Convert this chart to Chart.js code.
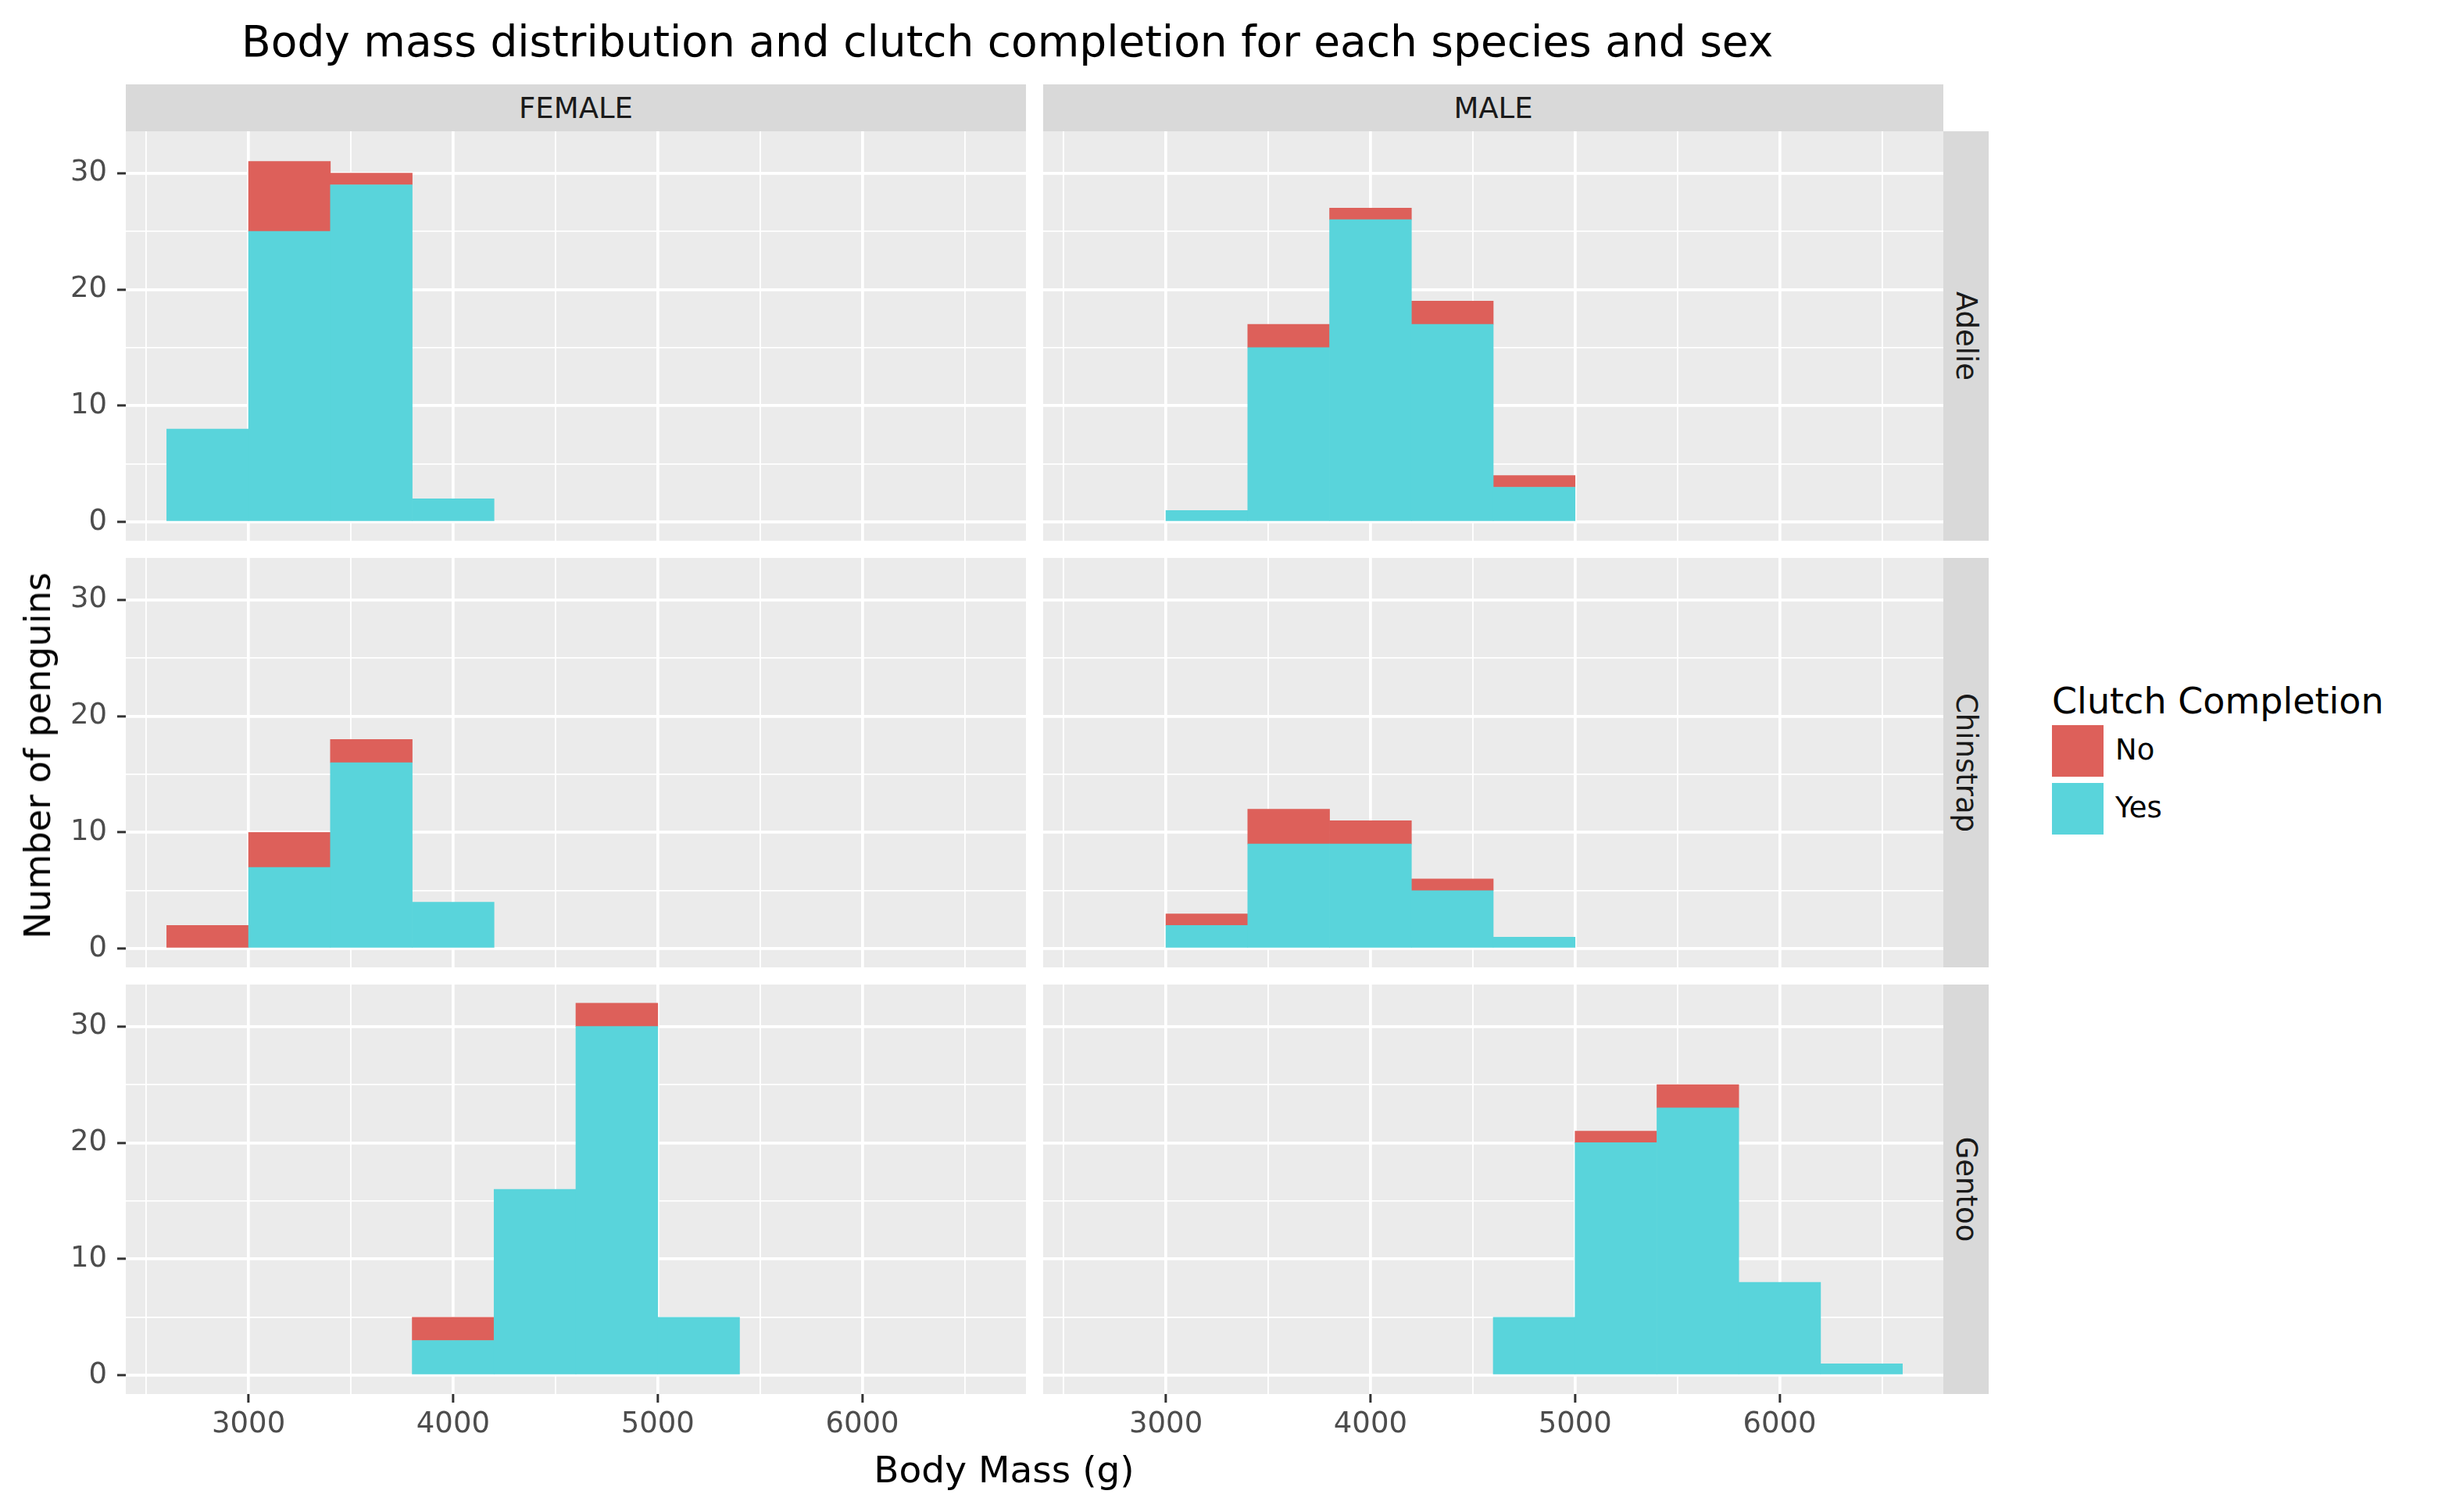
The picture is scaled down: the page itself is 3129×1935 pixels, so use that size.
<!DOCTYPE html>
<html>
<head>
<meta charset="utf-8">
<script src="https://cdn.jsdelivr.net/npm/chart.js@4.4.1/dist/chart.umd.min.js"></script>
<style>
  body { margin: 0; background: #fff; font-family: "DejaVu Sans", sans-serif; }
  #page { position: relative; width: 3129px; height: 1935px; overflow: hidden; background: #fff; }
  canvas { position: absolute; }
  .txt { position: absolute; white-space: nowrap; line-height: 1; }
  .strip { position: absolute; background: #D9D9D9; color: #1A1A1A; font-size: 37px; }
  .strip span { position: absolute; left: 50%; top: 50%; white-space: nowrap; line-height: 1; }
  .key { position: absolute; width: 66px; height: 66px; }
</style>
</head>
<body>
<div id="page"></div>
<script>
// histogram bins (left edge of each 400 g bin)
const binStarts = [2600, 3000, 3400, 3800, 4200, 4600, 5000, 5400, 5800, 6200];
const binWidth = 400;
const sexes = ["FEMALE", "MALE"];
const species = ["Adelie", "Chinstrap", "Gentoo"];
const clutch = ["No", "Yes"];
// grid lines (major + minor) and the labelled ones
const xGrid = [2500, 3000, 3500, 4000, 4500, 5000, 5500, 6000, 6500];
const yGrid = [0, 5, 10, 15, 20, 25, 30];
const xTickLabels = [3000, 4000, 5000, 6000];
const yTickLabels = [0, 10, 20, 30];

// counts per bin
const adelieFemaleYes = [8, 25, 29, 2, 0, 0, 0, 0, 0, 0];
const adelieFemaleNo = [0, 6, 1, 0, 0, 0, 0, 0, 0, 0];
const adelieMaleYes = [0, 1, 15, 26, 17, 3, 0, 0, 0, 0];
const adelieMaleNo = [0, 0, 2, 1, 2, 1, 0, 0, 0, 0];
const chinstrapFemaleYes = [0, 7, 16, 4, 0, 0, 0, 0, 0, 0];
const chinstrapFemaleNo = [2, 3, 2, 0, 0, 0, 0, 0, 0, 0];
const chinstrapMaleYes = [0, 2, 9, 9, 5, 1, 0, 0, 0, 0];
const chinstrapMaleNo = [0, 1, 3, 2, 1, 0, 0, 0, 0, 0];
const gentooFemaleYes = [0, 0, 0, 3, 16, 30, 5, 0, 0, 0];
const gentooFemaleNo = [0, 0, 0, 2, 0, 2, 0, 0, 0, 0];
const gentooMaleYes = [0, 0, 0, 0, 0, 5, 20, 23, 8, 1];
const gentooMaleNo = [0, 0, 0, 0, 0, 0, 1, 2, 0, 0];

const colorNo = "#DD605A";
const colorYes = "#59D4DB";

// rows = species, cols = sex; [yes, no]
const panels = [
	[[adelieFemaleYes, adelieFemaleNo], [adelieMaleYes, adelieMaleNo]],
	[[chinstrapFemaleYes, chinstrapFemaleNo], [chinstrapMaleYes, chinstrapMaleNo]],
	[[gentooFemaleYes, gentooFemaleNo], [gentooMaleYes, gentooMaleNo]],
];

// page geometry
const panelLeft = [161, 1335];
const panelTop = [168, 714, 1260];
const panelW = 1152;
const panelH = 524;
const yAxisW = 161;
const xAxisH = 80;

Chart.defaults.font.family = "DejaVu Sans";

const page = document.getElementById("page");

//paints the grey panel background under the grid
const panelBg = {
	id: "panelBg",
	beforeDraw(chart) {
		const a = chart.chartArea;
		const c = chart.ctx;
		c.save();
		c.fillStyle = "#EBEBEB";
		c.fillRect(a.left, a.top, a.right - a.left, a.bottom - a.top);
		c.restore();
	},
};

function toPoints(counts) {
	return counts.map((v, i) => ({ x: binStarts[i] + binWidth / 2, y: v === 0 ? null : v }));
}

function addText(str, css) {
	const d = document.createElement("div");
	d.className = "txt";
	d.textContent = str;
	Object.assign(d.style, css);
	page.appendChild(d);
	return d;
}

// no auto padding around the axes, the panels must sit exactly
function noPad(s) {
	s.paddingTop = 0;
	s.paddingBottom = 0;
	s.paddingLeft = 0;
	s.paddingRight = 0;
}

for (let r = 0; r < species.length; r++) {
	for (let c = 0; c < sexes.length; c++) {
		const showY = c === 0;
		const showX = r === species.length - 1;
		const cv = document.createElement("canvas");
		const w = panelW + (showY ? yAxisW : 0);
		const h = panelH + (showX ? xAxisH : 0);
		cv.width = w;
		cv.height = h;
		cv.style.left = (panelLeft[c] - (showY ? yAxisW : 0)) + "px";
		cv.style.top = panelTop[r] + "px";
		cv.style.width = w + "px";
		cv.style.height = h + "px";
		page.appendChild(cv);

		const [yes, no] = panels[r][c];
		new Chart(cv.getContext("2d"), {
			type: "bar",
			data: {
				datasets: [
					{ label: "Yes", data: toPoints(yes), backgroundColor: colorYes },
					{ label: "No", data: toPoints(no), backgroundColor: colorNo },
				],
			},
			options: {
				responsive: false,
				devicePixelRatio: 1,
				animation: false,
				layout: { autoPadding: false, padding: 0 },
				datasets: { bar: { barPercentage: 1, categoryPercentage: 1, borderWidth: 0 } },
				plugins: { legend: { display: false }, tooltip: { enabled: false } },
				scales: {
					x: {
						type: "linear",
						position: "bottom",
						offset: false,
						stacked: true,
						min: 2400,
						max: 6800,
						border: { display: false },
						grid: {
							offset: false,
							color: "#FFFFFF",
							lineWidth: (ctx) => (ctx.tick && ctx.tick.value % 1000 === 0 ? 3.7 : 1.85),
							drawTicks: showX,
							tickLength: 11,
							tickWidth: 3,
							tickColor: (ctx) => (ctx.tick && xTickLabels.includes(ctx.tick.value) ? "#333333" : "rgba(0,0,0,0)"),
						},
						ticks: {
							display: showX,
							autoSkip: false,
							maxRotation: 0,
							minRotation: 0,
							padding: 6,
							color: "#4D4D4D",
							font: { size: 37 },
							callback: (v) => (xTickLabels.includes(v) ? String(v) : ""),
						},
						afterBuildTicks: (s) => { s.ticks = xGrid.map((v) => ({ value: v })); },
						afterFit: (s) => { s.height = showX ? xAxisH : 0; noPad(s); },
					},
					y: {
						stacked: true,
						min: -1.6,
						max: 33.6,
						border: { display: false },
						grid: {
							color: "#FFFFFF",
							lineWidth: (ctx) => (ctx.tick && ctx.tick.value % 10 === 0 ? 3.7 : 1.85),
							drawTicks: showY,
							tickLength: 11,
							tickWidth: 3,
							tickColor: (ctx) => (ctx.tick && yTickLabels.includes(ctx.tick.value) ? "#333333" : "rgba(0,0,0,0)"),
						},
						ticks: {
							display: showY,
							autoSkip: false,
							padding: 13,
							color: "#4D4D4D",
							font: { size: 37 },
							callback: (v) => (yTickLabels.includes(v) ? String(v) : ""),
						},
						afterBuildTicks: (s) => { s.ticks = yGrid.map((v) => ({ value: v })); },
						afterFit: (s) => { s.width = showY ? yAxisW : 0; noPad(s); },
					},
				},
			},
			plugins: [panelBg],
		});
	}
}

// facet strips on top (sex)
sexes.forEach((s, c) => {
	const d = document.createElement("div");
	d.className = "strip";
	Object.assign(d.style, { left: panelLeft[c] + "px", top: "108px", width: panelW + "px", height: "60px" });
	const sp = document.createElement("span");
	sp.textContent = s;
	sp.style.transform = "translate(-50%,-50%)";
	d.appendChild(sp);
	page.appendChild(d);
});

// facet strips on the right (species)
species.forEach((s, r) => {
	const d = document.createElement("div");
	d.className = "strip";
	Object.assign(d.style, { left: "2487px", top: panelTop[r] + "px", width: "58px", height: panelH + "px" });
	const sp = document.createElement("span");
	sp.textContent = s;
	sp.style.transform = "translate(-50%,-50%) rotate(90deg)";
	d.appendChild(sp);
	page.appendChild(d);
});

// titles
addText("Body mass distribution and clutch completion for each species and sex", {
	left: "309px", top: "26px", fontSize: "55px", color: "#000",
});
addText("Body Mass (g)", {
	left: "1285px", top: "1857px", fontSize: "47px", color: "#000", transform: "translateX(-50%)",
});
addText("Number of penguins", {
	left: "48px", top: "967px", fontSize: "46px", color: "#000", transform: "translate(-50%,-50%) rotate(-90deg)",
});

// legend
addText("Clutch Completion", { left: "2626px", top: "874px", fontSize: "46px", color: "#000" });
clutch.forEach((lab, i) => {
	const k = document.createElement("div");
	k.className = "key";
	k.style.left = "2626px";
	k.style.top = (928 + i * 74) + "px";
	k.style.background = lab === "No" ? colorNo : colorYes;
	page.appendChild(k);
	addText(lab, { left: "2707px", top: (941 + i * 74) + "px", fontSize: "37px", color: "#000" });
});
</script>
</body>
</html>
